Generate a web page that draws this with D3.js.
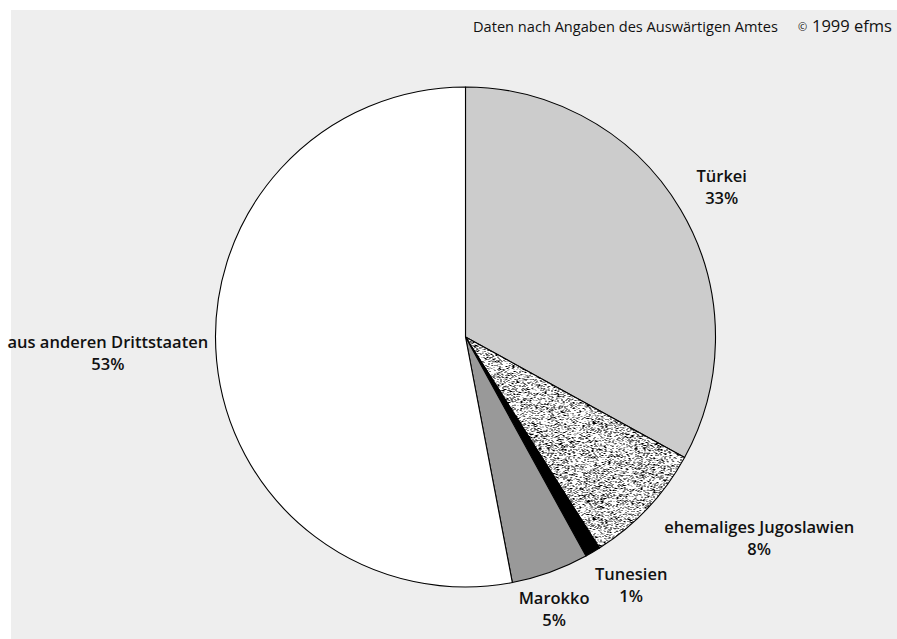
<!DOCTYPE html>
<html>
<head>
<meta charset="utf-8">
<script src="https://cdn.jsdelivr.net/npm/d3@7"></script>
<style>
  html, body { margin: 0; padding: 0; background: #ffffff; }
  svg { display: block; }
</style>
</head>
<body>
<svg id="chart" width="897" height="639"></svg>
<script>
// Herkunft der Antragsteller (Anteile in Prozent)
const categories = ["Türkei", "ehemaliges Jugoslawien", "Tunesien", "Marokko", "aus anderen Drittstaaten"];
const shares = [33, 8, 1, 5, 53];
const percentLabels = ["33%", "8%", "1%", "5%", "53%"];

const sourceNote = "Daten nach Angaben des Auswärtigen Amtes";
const copyrightNote = "1999 efms";

const W = 897, H = 639;
const cx = 465.5, cy = 337, radius = 250;
const FONT = "'Open Sans', sans-serif";

const svg = d3.select("#chart");
const defs = svg.append("defs");

// stippled fill: a small noise tile painted on a canvas
(function makeStipple() {
  const size = 96;
  const cv = document.createElement("canvas");
  cv.width = size; cv.height = size;
  const ctx = cv.getContext("2d");
  const img = ctx.createImageData(size, size);
  let s = 12345;
  const rnd = () => { s = (s * 1103515245 + 12345) & 0x7fffffff; return s / 0x7fffffff; };
  for (let i = 0; i < size * size; i++) {
    const r = rnd();
    const v = r < 0.17 ? 0 : (r < 0.33 ? 140 : 255);
    img.data[i * 4] = v; img.data[i * 4 + 1] = v; img.data[i * 4 + 2] = v; img.data[i * 4 + 3] = 255;
  }
  ctx.putImageData(img, 0, 0);
  const pat = defs.append("pattern")
    .attr("id", "stipple")
    .attr("patternUnits", "userSpaceOnUse")
    .attr("width", size).attr("height", size);
  pat.append("image")
    .attr("href", cv.toDataURL())
    .attr("width", size).attr("height", size)
    .style("image-rendering", "pixelated");
})();

const fills = d3.scaleOrdinal()
  .domain(categories)
  .range(["#cccccc", "url(#stipple)", "#000000", "#999999", "#ffffff"]);

// panel background
svg.append("rect")
  .attr("x", 11).attr("y", 10)
  .attr("width", W - 11).attr("height", H - 10)
  .attr("fill", "#eeeeee");

// header notes
svg.append("text")
  .attr("x", 473).attr("y", 32)
  .attr("font-family", FONT)
  .attr("font-size", 14.6)
  .attr("fill", "#111")
  .text(sourceNote);

const copy = svg.append("text")
  .attr("y", 32)
  .attr("font-family", FONT)
  .attr("font-size", 16.5)
  .attr("fill", "#111");
copy.append("tspan").attr("x", 798).attr("font-size", 11).attr("dy", -1).text("©");
copy.append("tspan").attr("x", 812).attr("dy", 1).text(copyrightNote);

const data = categories.map((c, i) => ({ name: c, value: shares[i], label: percentLabels[i] }));

const pie = d3.pie().sort(null).value(d => d.value);
const arc = d3.arc().innerRadius(0).outerRadius(radius);
const arcs = pie(data);

const g = svg.append("g").attr("transform", `translate(${cx},${cy})`);

g.selectAll("path.slice")
  .data(arcs)
  .join("path")
  .attr("class", "slice")
  .attr("d", arc)
  .attr("fill", d => fills(d.data.name))
  .attr("stroke", "#000")
  .attr("stroke-width", 1.1)
  .attr("stroke-linejoin", "round");

// labels sit around the pie, nudged clear of the rim
const labelArc = d3.arc().innerRadius(300).outerRadius(300);
const labelNudge = [[-2, 3], [75, -4], [13, -10], [-13, -10], [-59, -12]];

const labels = g.selectAll("g.label")
  .data(arcs)
  .join("g")
  .attr("class", "label")
  .attr("transform", (d, i) => {
    const [x, y] = labelArc.centroid(d);
    return `translate(${x + labelNudge[i][0]},${y + labelNudge[i][1]})`;
  })
  .attr("font-family", FONT)
  .attr("font-weight", 600)
  .attr("font-size", 16.5)
  .attr("fill", "#111")
  .attr("text-anchor", "middle");

labels.append("text").attr("y", -5).text(d => d.data.name);
labels.append("text").attr("y", 17).text(d => d.data.label);
</script>
</body>
</html>
